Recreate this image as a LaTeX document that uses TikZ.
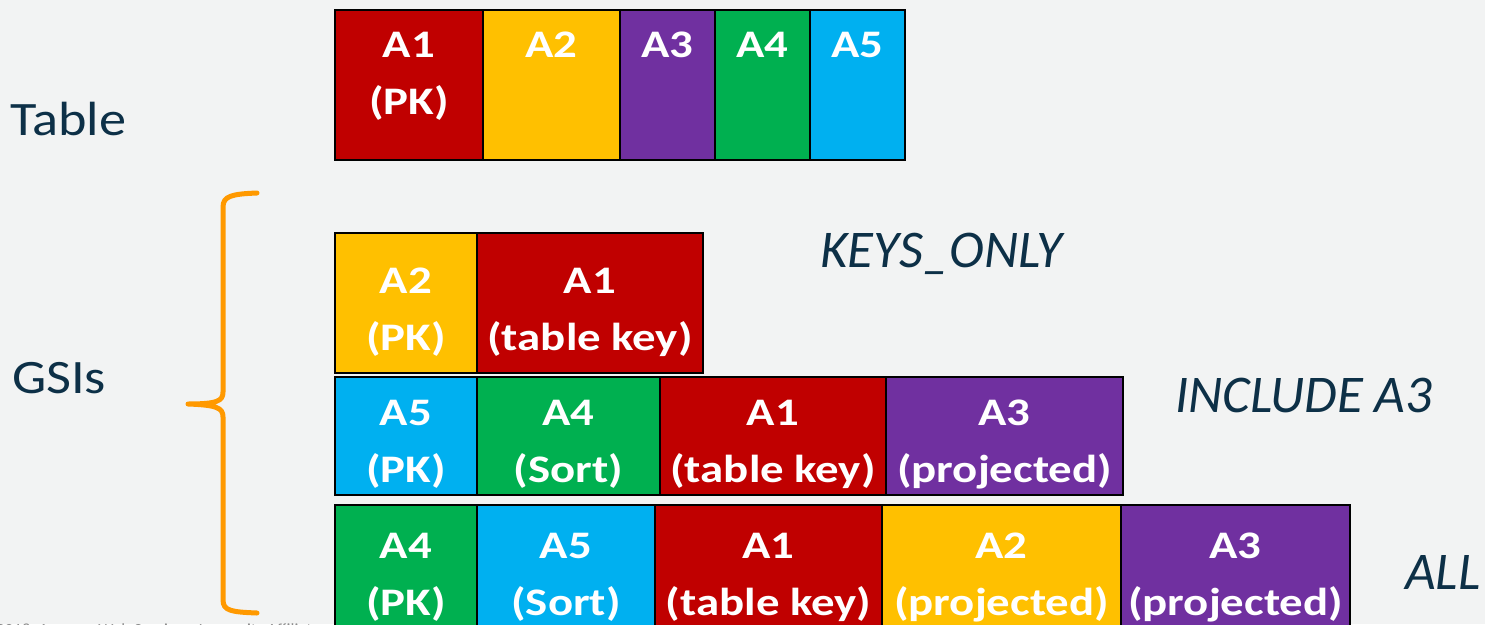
\documentclass[tikz,border=0pt]{standalone}
\usepackage{fontspec}
\setmainfont{Carlito}
\newfontfamily\cellfont[FakeStretch=1.2]{Carlito}
\newfontfamily\sidefont[FakeStretch=1.13]{Carlito}
\usetikzlibrary{positioning}

\definecolor{slidebg}{HTML}{F2F3F3}
\definecolor{inkblue}{HTML}{0D3047}
\definecolor{awsred}{HTML}{C00000}
\definecolor{awsyellow}{HTML}{FFC000}
\definecolor{awspurple}{HTML}{7030A0}
\definecolor{awsgreen}{HTML}{00B050}
\definecolor{awsblue}{HTML}{00B0F0}
\definecolor{braceorange}{HTML}{FF9900}

\begin{document}
\begin{tikzpicture}[x=1pt,y=-1pt]
		\tikzstyle{cell} = [draw=black, line width=2.5pt, outer sep=0pt, inner sep=0pt, anchor=north west]
		\tikzstyle{lbl} = [text=white, font=\cellfont\bfseries\fontsize{39}{57}\selectfont, align=center, inner sep=0pt, anchor=north]
		\tikzstyle{side} = [text=inkblue, font=\sidefont\fontsize{48}{56}\selectfont, inner sep=0pt, anchor=base west]
		\tikzstyle{kind} = [text=inkblue, font=\itshape\fontsize{53}{60}\selectfont, inner sep=0pt, anchor=base west]
		
		\useasboundingbox (0,0) rectangle (1485,624);
		\clip (0,0) rectangle (1485,624);
		\fill[slidebg] (0,0) rectangle (1485,624);
		\node[text=black!45, font=\fontsize{17}{20}\selectfont, inner sep=0pt, anchor=base west] (copy) at (-22,635) {© 2018, Amazon Web Services, Inc. or its Affiliates. All rights reserved.};
		
		% base table
		\node[cell, fill=awsred, minimum width=148pt, minimum height=150pt] (t1) at (335,10) {};
		\node[cell, fill=awsyellow, minimum width=137pt, minimum height=150pt, right=0pt of t1] (t2) {};
		\node[cell, fill=awspurple, minimum width=95pt, minimum height=150pt, right=0pt of t2] (t3) {};
		\node[cell, fill=awsgreen, minimum width=95pt, minimum height=150pt, right=0pt of t3] (t4) {};
		\node[cell, fill=awsblue, minimum width=95pt, minimum height=150pt, right=0pt of t4] (t5) {};
		\node[lbl, below=22pt of t1.north] (t1txt) {A1\\(PK)};
		\node[lbl, below=22pt of t2.north] (t2txt) {A2};
		\node[lbl, below=22pt of t3.north] (t3txt) {A3};
		\node[lbl, below=22pt of t4.north] (t4txt) {A4};
		\node[lbl, below=22pt of t5.north] (t5txt) {A5};
		
		% GSI with KEYS_ONLY
		\node[cell, fill=awsyellow, minimum width=142pt, minimum height=140pt] (k1) at (335,233) {};
		\node[cell, fill=awsred, minimum width=226pt, minimum height=140pt, right=0pt of k1] (k2) {};
		\node[lbl, below=35pt of k1.north] (k1txt) {A2\\(PK)};
		\node[lbl, below=35pt of k2.north] (k2txt) {A1\\(table key)};
		
		% GSI with INCLUDE A3
		\node[cell, fill=awsblue, minimum width=142pt, minimum height=118pt] (i1) at (335,377) {};
		\node[cell, fill=awsgreen, minimum width=183pt, minimum height=118pt, right=0pt of i1] (i2) {};
		\node[cell, fill=awsred, minimum width=226pt, minimum height=118pt, right=0pt of i2] (i3) {};
		\node[cell, fill=awspurple, minimum width=237pt, minimum height=118pt, right=0pt of i3] (i4) {};
		\node[lbl, below=23pt of i1.north] (i1txt) {A5\\(PK)};
		\node[lbl, below=23pt of i2.north] (i2txt) {A4\\(Sort)};
		\node[lbl, below=23pt of i3.north] (i3txt) {A1\\(table key)};
		\node[lbl, below=23pt of i4.north] (i4txt) {A3\\(projected)};
		
		% GSI with ALL
		\node[cell, fill=awsgreen, minimum width=142pt, minimum height=130pt] (a1) at (335,505) {};
		\node[cell, fill=awsblue, minimum width=178pt, minimum height=130pt, right=0pt of a1] (a2) {};
		\node[cell, fill=awsred, minimum width=227pt, minimum height=130pt, right=0pt of a2] (a3) {};
		\node[cell, fill=awsyellow, minimum width=239pt, minimum height=130pt, right=0pt of a3] (a4) {};
		\node[cell, fill=awspurple, minimum width=229pt, minimum height=130pt, right=0pt of a4] (a5) {};
		\node[lbl, below=28pt of a1.north] (a1txt) {A4\\(PK)};
		\node[lbl, below=28pt of a2.north] (a2txt) {A5\\(Sort)};
		\node[lbl, below=28pt of a3.north] (a3txt) {A1\\(table key)};
		\node[lbl, below=28pt of a4.north] (a4txt) {A2\\(projected)};
		\node[lbl, below=28pt of a5.north] (a5txt) {A3\\(projected)};
		
		% row titles and projection types
		\node[side] (tablename) at (10,135) {Table};
		\node[side] (gsiname) at (12,393) {GSIs};
		\node[kind] (keysonly) at (820,267) {KEYS\_ONLY};
		\node[kind] (include) at (1175,412) {INCLUDE A3};
		\node[kind] (all) at (1405,589) {ALL};
		
		% brace over the three indexes
		\draw[braceorange, line width=5pt, line cap=round, line join=round]
			(257,193) .. controls (232,194) and (223,196) .. (223,207) -- (223,392)
			.. controls (223,401) and (217,404) .. (188,404)
			.. controls (217,405) and (223,408) .. (223,417) -- (223,600)
			.. controls (223,611) and (232,612) .. (257,613);
\end{tikzpicture}
\end{document}
